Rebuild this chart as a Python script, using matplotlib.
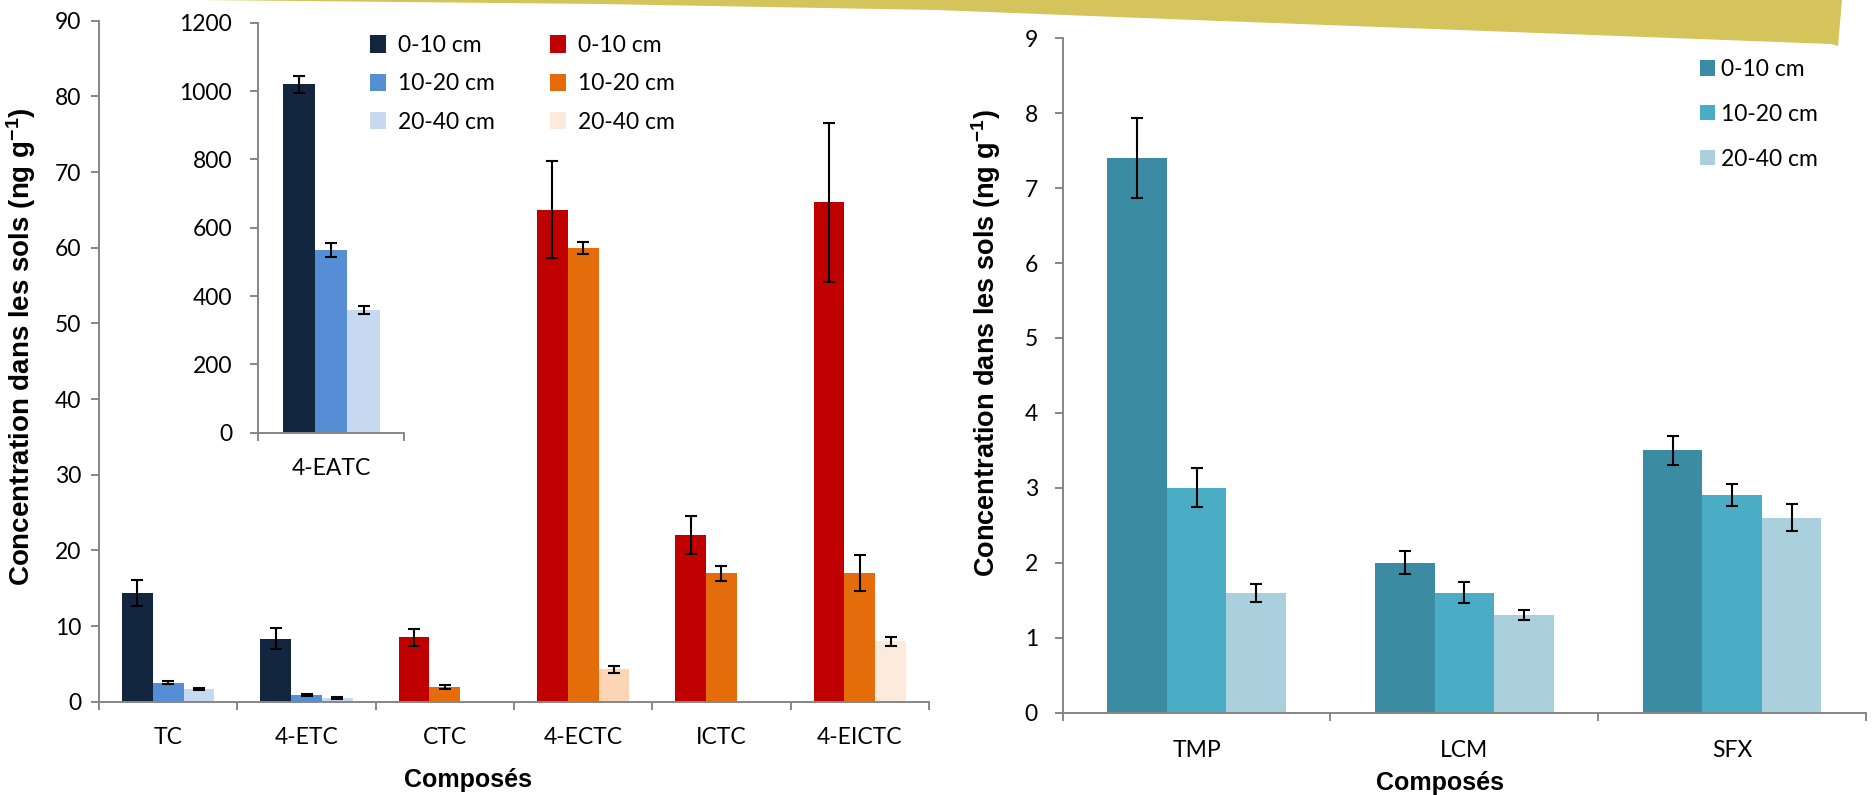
import numpy as np
import matplotlib
matplotlib.use("Agg")
import matplotlib.pyplot as plt
from matplotlib.patches import Polygon, Patch

plt.rcParams['font.family'] = ['Lato', 'DejaVu Sans']
plt.rcParams['mathtext.fontset'] = 'custom'
plt.rcParams['mathtext.rm'] = 'Liberation Sans'
plt.rcParams['mathtext.bf'] = 'Liberation Sans:bold'
plt.rcParams['mathtext.default'] = 'bf'

# ---------------- data ----------------
left_categories = ['TC', '4-ETC', 'CTC', '4-ECTC', 'ICTC', '4-EICTC']
left_d0 = [14.4, 8.3, 8.5, 65.0, 22.0, 66.0]
left_d0_err = [1.7, 1.4, 1.1, 6.4, 2.5, 10.5]
left_d1 = [2.5, 0.9, 1.9, 60.0, 17.0, 17.0]
left_d1_err = [0.2, 0.1, 0.27, 0.8, 1.0, 2.4]
left_d2 = [1.7, 0.5, np.nan, 4.3, np.nan, 8.0]
left_d2_err = [0.15, 0.1, np.nan, 0.45, np.nan, 0.6]

inset_categories = ['4-EATC']
inset_d0 = [1020]
inset_d0_err = [25]
inset_d1 = [535]
inset_d1_err = [20]
inset_d2 = [359]
inset_d2_err = [13]

right_categories = ['TMP', 'LCM', 'SFX']
right_d0 = [7.4, 2.0, 3.5]
right_d0_err = [0.53, 0.15, 0.19]
right_d1 = [3.0, 1.6, 2.9]
right_d1_err = [0.26, 0.14, 0.15]
right_d2 = [1.6, 1.3, 2.6]
right_d2_err = [0.12, 0.07, 0.18]

depth_labels = ['0-10 cm', '10-20 cm', '20-40 cm']

# colours
blue_pal = ['#132640', '#558ED5', '#C6D9F1']
red_pal = ['#C00000', '#E46C0A', '#FDEADA']
teal_pal = ['#3B8BA3', '#4BACC6', '#AACFDD']
left_groups = ['b', 'b', 'r', 'r', 'r', 'r']
pale_special = {'4-ECTC': '#FCD5B5'}

W, H = 1872, 795
fig = plt.figure(figsize=(W / 100, H / 100), dpi=100)


def rect(x0, y_bottom, x1, y_top):
    return [x0 / W, 1 - y_bottom / H, (x1 - x0) / W, (y_bottom - y_top) / H]


# decorative banner at top
banner = Polygon([[200 / W, 1.0], [600 / W, 1 - 4 / H], [936 / W, 1 - 10 / H],
                  [1194 / W, 1 - 20 / H], [1831 / W, 1 - 44 / H],
                  [1838 / W, 1 - 46 / H], [1842 / W, 1.0]],
                 closed=True, transform=fig.transFigure, facecolor='#D5C45C',
                 edgecolor='none', zorder=0)
fig.patches.append(banner)

ax1 = fig.add_axes(rect(99, 701.7, 929, 20.7))
axi = fig.add_axes(rect(258.3, 432.7, 404, 22.7))
ax2 = fig.add_axes(rect(1062.7, 712.5, 1866, 38.3))

GRAY = '#868686'
TICKLEN = 5.8


def style(ax, labels, ymax, step, ypad, xpad):
    n = len(labels)
    for s in ['top', 'right']:
        ax.spines[s].set_visible(False)
    for s in ['left', 'bottom']:
        ax.spines[s].set_color(GRAY)
        ax.spines[s].set_linewidth(1.4)
    ax.set_xlim(-0.5, n - 0.5)
    ax.set_ylim(0, ymax)
    ax.set_yticks(np.arange(0, ymax + step / 2, step))
    ax.tick_params(axis='y', direction='out', length=TICKLEN, width=1.4,
                   color=GRAY, pad=ypad, labelsize=16.5, labelcolor='black')
    ax.set_xticks(np.arange(n + 1) - 0.5)
    ax.set_xticklabels([])
    ax.tick_params(axis='x', which='major', direction='out', length=TICKLEN,
                   width=1.4, color=GRAY)
    ax.set_xticks(np.arange(n), minor=True)
    ax.set_xticklabels(labels, minor=True)
    ax.tick_params(axis='x', which='minor', length=0, pad=xpad, labelsize=16.5)
    ax.set_facecolor('none')


bw = 1 / 4.5
ekw = dict(ecolor='black', elinewidth=1.5, capsize=4.3, capthick=1.5)


def draw_groups(ax, series, errs, colors):
    x = np.arange(len(series[0]))
    for i, (vals, err, col) in enumerate(zip(series, errs, colors)):
        ax.bar(x + (i - 1) * bw, vals, bw, color=col, yerr=err,
               error_kw=ekw, linewidth=0, zorder=2)


# left main chart
lc = []
for i in range(3):
    cols = []
    for cat, g in zip(left_categories, left_groups):
        c = blue_pal[i] if g == 'b' else red_pal[i]
        if i == 2 and cat in pale_special:
            c = pale_special[cat]
        cols.append(c)
    lc.append(cols)
draw_groups(ax1, [left_d0, left_d1, left_d2],
            [left_d0_err, left_d1_err, left_d2_err], lc)
style(ax1, left_categories, 90, 10, 7, 18)

# inset
draw_groups(axi, [inset_d0, inset_d1, inset_d2],
            [inset_d0_err, inset_d1_err, inset_d2_err], blue_pal)
style(axi, inset_categories, 1200, 200, 13, 18.5)

# right chart
draw_groups(ax2, [right_d0, right_d1, right_d2],
            [right_d0_err, right_d1_err, right_d2_err], teal_pal)
style(ax2, right_categories, 9, 1, 12, 20)

# legends
hl = [Patch(facecolor=blue_pal[i], edgecolor='none') for i in range(3)] + \
     [Patch(facecolor=red_pal[i], edgecolor='none') for i in range(3)]
fig.legend(hl, depth_labels + depth_labels, ncol=2, loc='upper left',
           bbox_to_anchor=(370 / W, 1 - 35 / H), bbox_transform=fig.transFigure,
           frameon=False, fontsize=16.5, borderpad=0, borderaxespad=0,
           handlelength=0.7, handleheight=0.78, handletextpad=0.52,
           labelspacing=0.76, columnspacing=2.4)

hr = [Patch(facecolor=teal_pal[i], edgecolor='none') for i in range(3)]
fig.legend(hr, depth_labels, loc='upper left',
           bbox_to_anchor=(1700 / W, 1 - 59 / H), bbox_transform=fig.transFigure,
           frameon=False, fontsize=16.5, borderpad=0, borderaxespad=0,
           handlelength=0.65, handleheight=0.65, handletextpad=0.26,
           labelspacing=1.04)

# axis titles
ylab = 'Concentration dans les sols (ng g$^{-1}$)'
fig.text(21.5 / W, 1 - 347 / H, ylab, rotation=90, ha='center', va='center',
         fontsize=20, fontweight='bold', family='Liberation Sans')
fig.text(986 / W, 1 - 343 / H, ylab, rotation=90, ha='center', va='center',
         fontsize=19.5, fontweight='bold', family='Liberation Sans')
fig.text(468 / W, 1 - 787 / H, 'Composés', ha='center', va='baseline',
         fontsize=18, fontweight='bold', family='Liberation Sans')
fig.text(1440 / W, 1 - 790 / H, 'Composés', ha='center', va='baseline',
         fontsize=18, fontweight='bold', family='Liberation Sans')

fig.savefig('out.png', dpi=100)
